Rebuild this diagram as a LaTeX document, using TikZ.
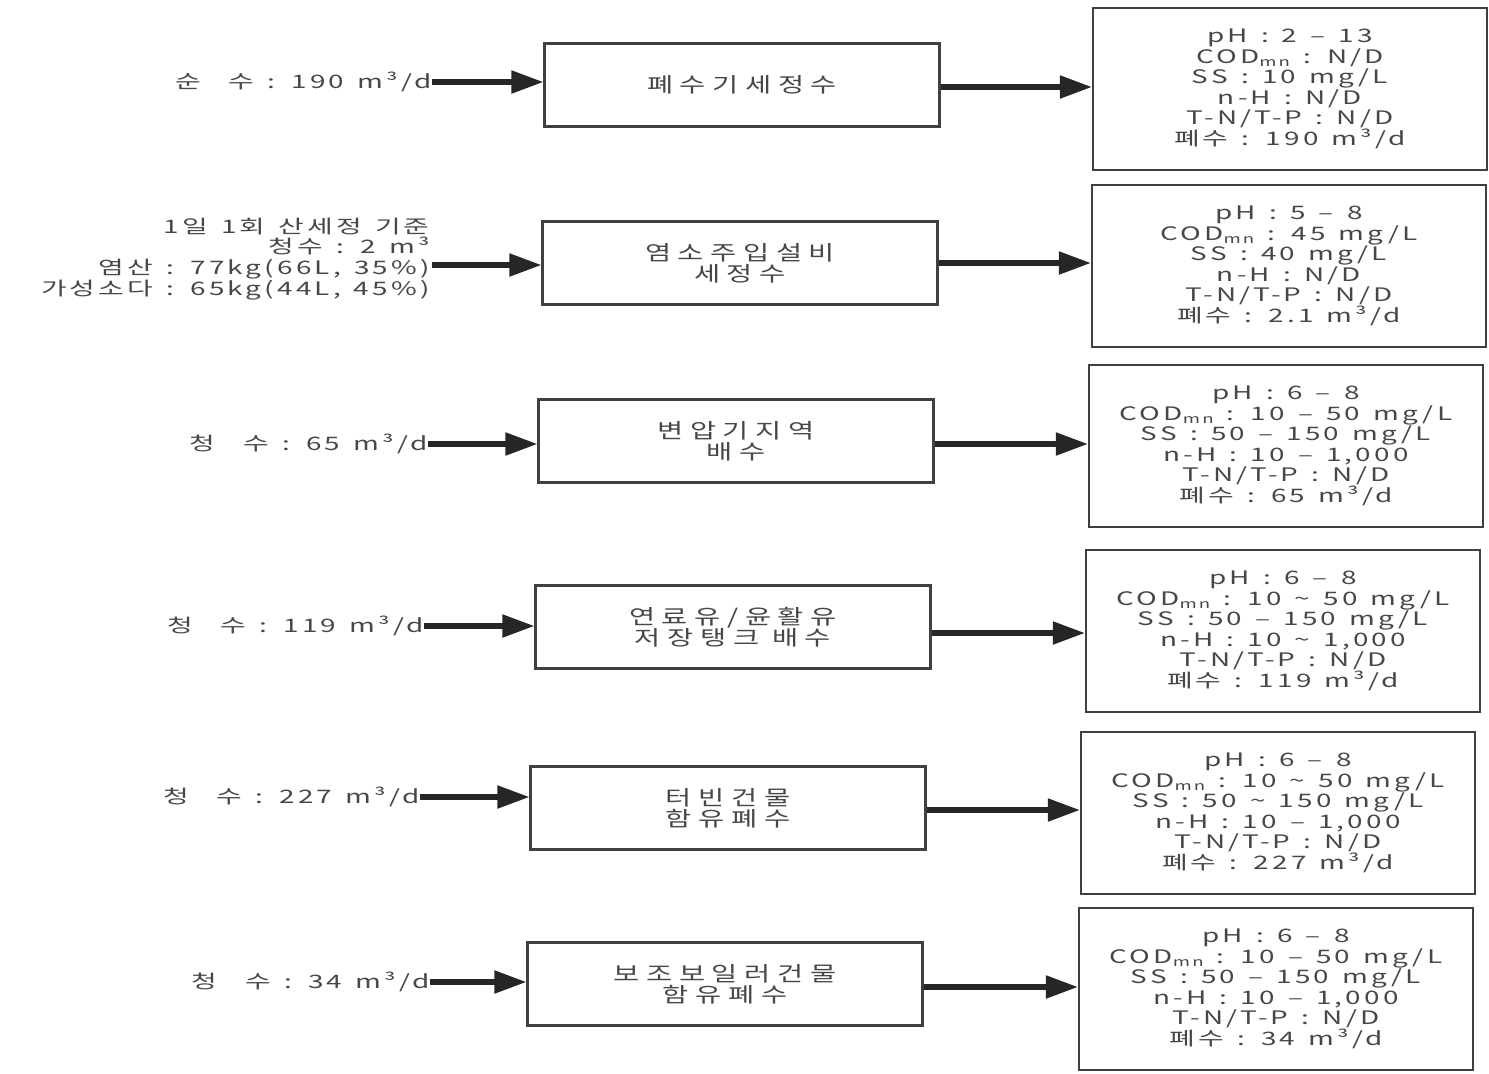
\documentclass[tikz,border=0pt]{standalone}
\usepackage{fontspec}
\setmainfont{Noto Sans CJK KR}
\newfontfamily\midfont[LetterSpace=32,FakeStretch=1.38]{Noto Sans CJK KR}
\newfontfamily\datfont[LetterSpace=17,FakeStretch=1.5,WordSpace=1.4]{Noto Sans CJK KR}
\usetikzlibrary{arrows.meta}
\newcommand{\cmn}{COD\raisebox{-0.3ex}{\fontsize{6.2}{6.2}\selectfont mn}}
\newcommand{\tightlines}{\lineskiplimit=-6pt\relax}
\begin{document}
\begin{tikzpicture}[x=0.5pt,y=-0.5pt,
  midbox/.style={draw=black!75, line width=1.1pt, minimum width=197.5pt, minimum height=41.5pt,
    align=center, font=\midfont\fontsize{10.3}{10.6}\selectfont\tightlines, text=black!72, inner sep=0pt},
  datbox/.style={draw=black!75, line width=1.1pt, minimum width=197pt, minimum height=81pt,
    align=center, font=\datfont\fontsize{9.3}{10.25}\selectfont\tightlines, text=black!72, inner sep=0pt},
  lab/.style={anchor=east, align=right, font=\datfont\fontsize{9.3}{10.4}\selectfont\tightlines, text=black!72, inner sep=0pt},
  flow/.style={draw=black!85, line width=2.6pt, -{Triangle[length=16pt,width=11pt]}}]
\useasboundingbox (0,0) rectangle (1489,1073);

% middle boxes
\node[midbox] (m1) at (742,85) {폐수기세정수};
\node[midbox] (m2) at (740,263) {염소주입설비\\세정수};
\node[midbox] (m3) at (736,441) {변압기지역\\배수};
\node[midbox] (m4) at (733,627) {연료유/윤활유\\저장탱크 배수};
\node[midbox] (m5) at (728,808) {터빈건물\\함유폐수};
\node[midbox] (m6) at (725,984) {보조보일러건물\\함유폐수};

% right boxes
\node[datbox] (r1) at (1290,89) {pH : 2 – 13\\\cmn{} : N/D\\SS : 10 mg/L\\n-H : N/D\\T-N/T-P : N/D\\폐수 : 190 m³/d};
\node[datbox] (r2) at (1289,266) {pH : 5 – 8\\\cmn{} : 45 mg/L\\SS : 40 mg/L\\n-H : N/D\\T-N/T-P : N/D\\폐수 : 2.1 m³/d};
\node[datbox] (r3) at (1286,446) {pH : 6 – 8\\\cmn{} : 10 – 50 mg/L\\SS : 50 – 150 mg/L\\n-H : 10 – 1,000\\T-N/T-P : N/D\\폐수 : 65 m³/d};
\node[datbox] (r4) at (1283,631) {pH : 6 – 8\\\cmn{} : 10 \textasciitilde{} 50 mg/L\\SS : 50 – 150 mg/L\\n-H : 10 \textasciitilde{} 1,000\\T-N/T-P : N/D\\폐수 : 119 m³/d};
\node[datbox] (r5) at (1278,813) {pH : 6 – 8\\\cmn{} : 10 \textasciitilde{} 50 mg/L\\SS : 50 \textasciitilde{} 150 mg/L\\n-H : 10 – 1,000\\T-N/T-P : N/D\\폐수 : 227 m³/d};
\node[datbox] (r6) at (1276,989) {pH : 6 – 8\\\cmn{} : 10 – 50 mg/L\\SS : 50 – 150 mg/L\\n-H : 10 – 1,000\\T-N/T-P : N/D\\폐수 : 34 m³/d};

% left labels
\node[lab] (l1) at (432,82) {순\hspace{1.5em}수 : 190 m³/d};
\node[lab] (l2) at (430,259) {1일 1회 산세정 기준\\청수 : 2 m³\\염산 : 77kg(66L, 35\%)\\가성소다 : 65kg(44L, 45\%)};
\coordinate (a2) at (432,265);
\node[lab] (l3) at (428,444) {청\hspace{1.5em}수 : 65 m³/d};
\node[lab] (l4) at (424,626) {청\hspace{1.5em}수 : 119 m³/d};
\node[lab] (l5) at (420,797) {청\hspace{1.5em}수 : 227 m³/d};
\node[lab] (l6) at (430,982) {청\hspace{1.5em}수 : 34 m³/d};

% input arrows
\draw[flow] (l1.east) -- (l1.east -| m1.west);
\draw[flow] (a2) -- (a2 -| m2.west);
\draw[flow] (l3.east) -- (l3.east -| m3.west);
\draw[flow] (l4.east) -- (l4.east -| m4.west);
\draw[flow] (l5.east) -- (l5.east -| m5.west);
\draw[flow] (l6.east) -- (l6.east -| m6.west);

% output arrows
\draw[flow] ([yshift=-1pt]m1.east) -- ([yshift=-1pt]m1.east -| r1.west);
\draw[flow] (m2.east) -- (m2.east -| r2.west);
\draw[flow] ([yshift=-1.5pt]m3.east) -- ([yshift=-1.5pt]m3.east -| r3.west);
\draw[flow] ([yshift=-3pt]m4.east) -- ([yshift=-3pt]m4.east -| r4.west);
\draw[flow] ([yshift=-1pt]m5.east) -- ([yshift=-1pt]m5.east -| r5.west);
\draw[flow] ([yshift=-1.5pt]m6.east) -- ([yshift=-1.5pt]m6.east -| r6.west);
\end{tikzpicture}
\end{document}
